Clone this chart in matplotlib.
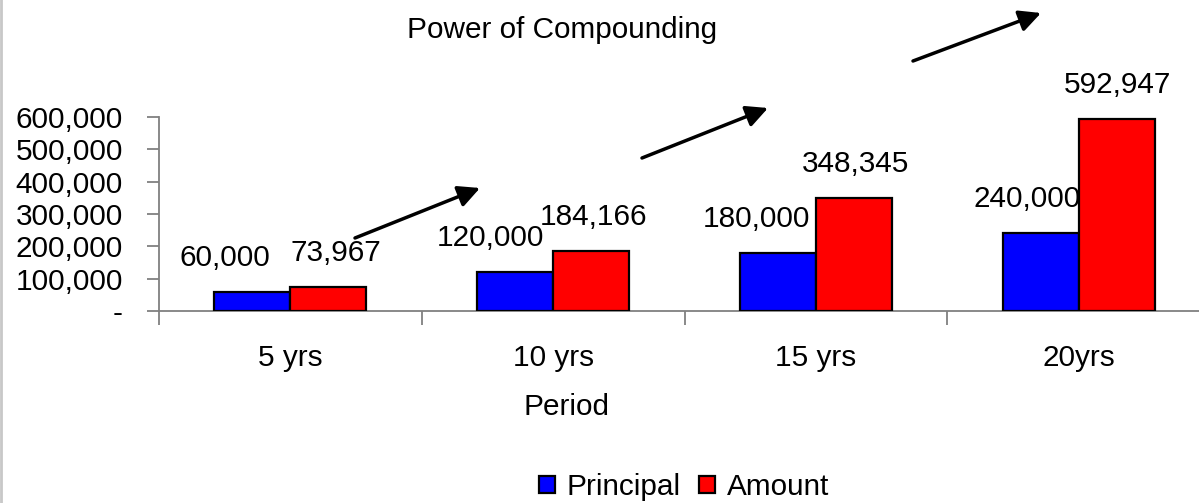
import matplotlib
matplotlib.use("Agg")
from matplotlib import pyplot as plt
from matplotlib.patches import Patch, FancyArrowPatch
from matplotlib.lines import Line2D
from matplotlib.ticker import FuncFormatter, FixedLocator

# Data
perioder = ["5 yrs", "10 yrs", "15 yrs", "20yrs"]
principal = [60000, 120000, 180000, 240000]
amount = [73967, 184166, 348345, 592947]

# Horizontal nudges (pixels) for the value labels, as in the original
principal_dx = [-28, -25, -21, -14]
amount_dx = [8, 2, 2, 1]

W, H = 1199, 503


def px(x, y):
    """Pixel position -> figure fraction."""
    return x / W, 1 - y / H


def main() -> None:
    plt.rcParams["font.family"] = ["Liberation Sans", "DejaVu Sans"]
    plt.rcParams["font.size"] = 21.4

    fig = plt.figure(figsize=(W / 100, H / 100), dpi=100)
    ax = fig.add_axes([159 / W, 1 - 311 / H, 1051 / W, 194 / H])

    x = list(range(len(perioder)))
    bredde = 0.289
    ax.bar([i - bredde / 2 for i in x], principal, width=bredde, color="#0000ff",
           edgecolor="black", linewidth=1.6, label="Principal", zorder=3)
    ax.bar([i + bredde / 2 for i in x], amount, width=bredde, color="#ff0000",
           edgecolor="black", linewidth=1.6, label="Amount", zorder=3)

    # Verdietiketter
    for i in x:
        ax.annotate(f"{principal[i]:,}", (i - bredde / 2, principal[i]),
                    xytext=(principal_dx[i] * 0.72, 34 * 0.72), textcoords="offset points",
                    ha="center", va="center")
        ax.annotate(f"{amount[i]:,}", (i + bredde / 2, amount[i]),
                    xytext=(amount_dx[i] * 0.72, 34 * 0.72), textcoords="offset points",
                    ha="center", va="center")

    ax.set_xlim(-0.5, len(perioder) - 0.5)
    ax.set_ylim(0, 600000)

    # Akser
    for side in ["top", "right"]:
        ax.spines[side].set_visible(False)
    for side in ["left", "bottom"]:
        ax.spines[side].set_color("#808080")
        ax.spines[side].set_linewidth(1.3)

    ax.yaxis.set_major_locator(FixedLocator([0, 100000, 200000, 300000, 400000, 500000, 600000]))
    ax.yaxis.set_major_formatter(FuncFormatter(lambda v, p: "-" if v == 0 else f"{int(v):,}"))
    ax.tick_params(axis="y", direction="out", length=9, width=1.3, color="#808080", pad=17)

    ax.xaxis.set_major_locator(FixedLocator([i - 0.5 for i in range(len(perioder) + 1)]))
    ax.xaxis.set_major_formatter(FuncFormatter(lambda v, p: ""))
    ax.set_xticks(x, perioder, minor=True)
    ax.tick_params(axis="x", which="major", direction="out", length=10, width=1.3, color="#808080")
    ax.tick_params(axis="x", which="minor", length=0, pad=24)

    # Tittel og aksetekst
    fig.text(*px(562, 30), "Power of Compounding", ha="center", va="center")
    fig.text(*px(566, 407), "Period", ha="center", va="center")

    # Piler
    piler = [((355, 238), (480, 188)), ((642, 158), (768, 108)), ((913, 61), (1041, 13))]
    for (x0, y0), (x1, y1) in piler:
        fig.add_artist(FancyArrowPatch(
            px(x0, y0), px(x1, y1), transform=fig.transFigure,
            arrowstyle="-|>,head_length=13,head_width=6.5", color="black",
            linewidth=2.5, shrinkA=0, shrinkB=0))

    # Tegnforklaring
    handles = [Patch(facecolor="#0000ff", edgecolor="black", linewidth=1.6, label="Principal"),
               Patch(facecolor="#ff0000", edgecolor="black", linewidth=1.6, label="Amount")]
    fig.legend(handles=handles, loc="center", bbox_to_anchor=px(684, 487), ncol=2,
               frameon=False, handlelength=0.55, handleheight=0.55,
               handletextpad=0.4, columnspacing=0.6, borderpad=0)

    # Grå kant til venstre fra skanningen
    fig.add_artist(Line2D([1 / W, 1 / W], [0, 1], color="#c8c8c8", linewidth=2,
                          transform=fig.transFigure))

    fig.savefig("out.png", dpi=100)


if __name__ == "__main__":
    main()
